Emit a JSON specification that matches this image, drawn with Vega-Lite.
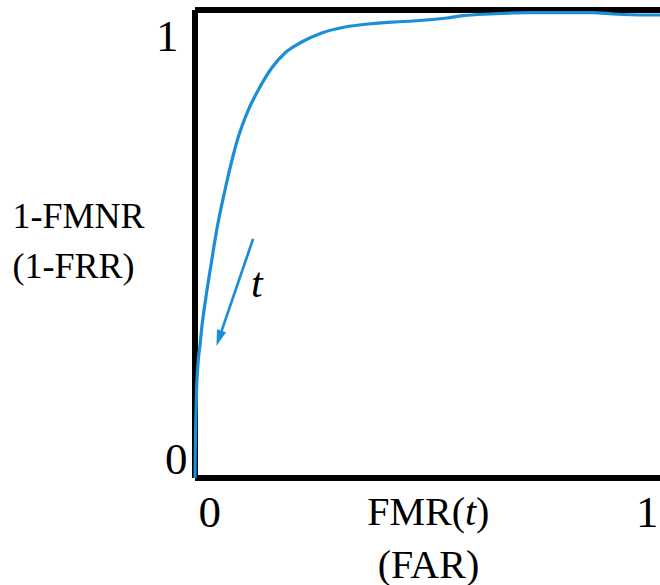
{
  "$schema": "https://vega.github.io/schema/vega-lite/v6.json",
  "autosize": {"type": "none"},
  "padding": {"left": 195, "top": 10, "right": 0, "bottom": 107},
  "width": 465,
  "height": 468,
  "background": "white",
  "config": {
    "view": {"stroke": null},
    "font": "Liberation Serif"
  },
  "datasets": {
    "curve": [
      {"fmr": 0.0, "tpr": 0.0},
      {"fmr": 0.0006, "tpr": 0.0598},
      {"fmr": 0.0017, "tpr": 0.1239},
      {"fmr": 0.0034, "tpr": 0.1880},
      {"fmr": 0.0065, "tpr": 0.2457},
      {"fmr": 0.0108, "tpr": 0.2842},
      {"fmr": 0.0140, "tpr": 0.3162},
      {"fmr": 0.0226, "tpr": 0.3803},
      {"fmr": 0.0344, "tpr": 0.4551},
      {"fmr": 0.0467, "tpr": 0.5299},
      {"fmr": 0.0645, "tpr": 0.6154},
      {"fmr": 0.0796, "tpr": 0.6795},
      {"fmr": 0.0931, "tpr": 0.7286},
      {"fmr": 0.1146, "tpr": 0.7863},
      {"fmr": 0.1361, "tpr": 0.8291},
      {"fmr": 0.1649, "tpr": 0.8761},
      {"fmr": 0.1935, "tpr": 0.9081},
      {"fmr": 0.2295, "tpr": 0.9316},
      {"fmr": 0.2725, "tpr": 0.9509},
      {"fmr": 0.3226, "tpr": 0.9637},
      {"fmr": 0.3720, "tpr": 0.9701},
      {"fmr": 0.4301, "tpr": 0.9744},
      {"fmr": 0.4688, "tpr": 0.9765},
      {"fmr": 0.5419, "tpr": 0.9829},
      {"fmr": 0.5763, "tpr": 0.9878},
      {"fmr": 0.6344, "tpr": 0.9915},
      {"fmr": 0.7204, "tpr": 0.9942},
      {"fmr": 0.8559, "tpr": 0.9942},
      {"fmr": 0.8989, "tpr": 0.9915},
      {"fmr": 0.9720, "tpr": 0.9893},
      {"fmr": 1.0, "tpr": 0.9893}
    ],
    "arrow": [
      {"fmr": 0.125, "tpr": 0.511},
      {"fmr": 0.0572, "tpr": 0.3145}
    ],
    "arrowhead": [
      {"fmr": 0.0516, "tpr": 0.2983}
    ],
    "label": [
      {"fmr": 0.133, "tpr": 0.387, "text": "t"}
    ],
    "xtitle": [
      {"fmr": 0.5806, "tpr": -0.1004, "part": "FMR(", "style": "normal", "align": "right"},
      {"fmr": 0.5806, "tpr": -0.1004, "part": "t", "style": "italic", "align": "left"},
      {"fmr": 0.6043, "tpr": -0.1004, "part": ")", "style": "normal", "align": "left"}
    ]
  },
  "encoding": {
    "x": {
      "field": "fmr",
      "type": "quantitative",
      "scale": {"domain": [0, 1], "nice": false, "zero": false},
      "axis": {
        "values": [0, 1],
        "format": "d",
        "domain": false,
        "ticks": false,
        "tickSize": 0,
        "grid": false,
        "labelFont": "Liberation Serif",
        "labelFontSize": 45,
        "labelColor": "black",
        "labelBaseline": "alphabetic",
        "labelPadding": 48,
        "labelFlush": false,
        "labelOverlap": false,
        "labelBound": false,
        "labelAlign": {"condition": {"test": "datum.value == 0", "value": "left"}, "value": "right"},
        "labelOffset": {"condition": {"test": "datum.value == 0", "value": 3}, "value": -2},
        "title": "(FAR)",
        "titleFont": "Liberation Serif",
        "titleFontSize": 40,
        "titleFontWeight": "normal",
        "titleColor": "black",
        "titleAlign": "center",
        "titleBaseline": "alphabetic",
        "titleX": 233,
        "titleY": 99
      }
    },
    "y": {
      "field": "tpr",
      "type": "quantitative",
      "scale": {"domain": [0, 1], "nice": false, "zero": false},
      "axis": {
        "values": [0, 1],
        "format": "d",
        "domain": false,
        "ticks": false,
        "tickSize": 0,
        "grid": false,
        "labelFont": "Liberation Serif",
        "labelFontSize": 45,
        "labelColor": "black",
        "labelAlign": "right",
        "labelBaseline": "alphabetic",
        "labelFlush": false,
        "labelOverlap": false,
        "labelBound": false,
        "labelPadding": {"condition": {"test": "datum.value == 1", "value": 17}, "value": 8},
        "labelOffset": {"condition": {"test": "datum.value == 1", "value": 40}, "value": -5},
        "title": ["1-FMNR", "(1-FRR)"],
        "titleFont": "Liberation Serif",
        "titleFontSize": 36,
        "titleFontWeight": "normal",
        "titleColor": "black",
        "titleAngle": 0,
        "titleAlign": "left",
        "titleBaseline": "alphabetic",
        "titleLineHeight": 50,
        "titleX": -183,
        "titleY": 217
      }
    }
  },
  "layer": [
    {
      "data": {"name": "curve"},
      "mark": {"type": "rule", "color": "black", "strokeWidth": 4.5},
      "encoding": {"x": {"datum": 0}, "y": null}
    },
    {
      "data": {"name": "curve"},
      "mark": {"type": "rule", "color": "black", "strokeWidth": 4.5},
      "encoding": {"y": {"datum": 0}, "x": null}
    },
    {
      "data": {"name": "curve"},
      "mark": {"type": "rule", "color": "black", "strokeWidth": 4.5},
      "encoding": {"y": {"datum": 1}, "x": null}
    },
    {
      "data": {"name": "curve"},
      "mark": {"type": "line", "color": "#1a8fd8", "strokeWidth": 3.2, "interpolate": "monotone"}
    },
    {
      "data": {"name": "arrow"},
      "mark": {"type": "line", "color": "#1a8fd8", "strokeWidth": 2.7}
    },
    {
      "data": {"name": "arrowhead"},
      "mark": {"type": "point", "filled": true, "color": "#1a8fd8", "opacity": 1, "shape": "M-0.6,-1L0.6,-1L0,1Z", "size": 256, "angle": 18.6}
    },
    {
      "data": {"name": "label"},
      "mark": {"type": "text", "font": "Liberation Serif", "fontSize": 42, "fontStyle": "italic", "color": "black", "align": "center", "baseline": "alphabetic"},
      "encoding": {"text": {"field": "text"}}
    },
    {
      "data": {"name": "xtitle"},
      "mark": {"type": "text", "font": "Liberation Serif", "fontSize": 40, "color": "black", "baseline": "alphabetic", "align": {"expr": "datum.align"}, "fontStyle": {"expr": "datum.style"}},
      "encoding": {"text": {"field": "part"}}
    }
  ]
}
